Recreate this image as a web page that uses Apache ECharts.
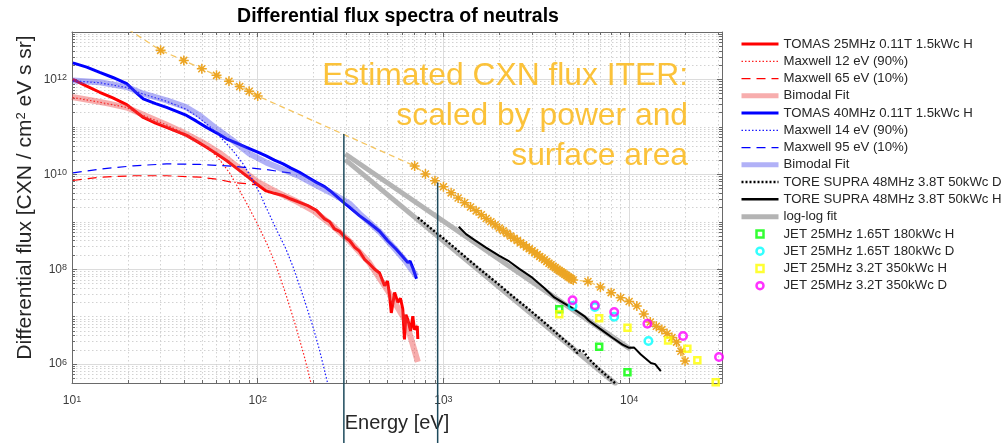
<!DOCTYPE html>
<html>
<head>
<meta charset="utf-8">
<script src="https://cdn.jsdelivr.net/npm/echarts@6/dist/echarts.min.js"></script>
<style>
  html, body { margin: 0; padding: 0; background: #fff; }
  #chart { width: 1001px; height: 443px; }
</style>
</head>
<body>
<div id="chart"></div>
<script>
// ---- axis ranges and tick values ----
const X_MIN = 10, X_MAX = 31623;
const Y_MIN = 4e5, Y_MAX = 1e13;
const xMajorTicks = [10, 100, 1000, 10000];
const yMajorTicks = [1e6, 1e8, 1e10, 1e12];

// ---- spectra: [energy eV, flux CXN/(cm2 eV s sr)] ----
const tomas25H = [
  [10.1,1.0e12],[12.0,7.24e11],[14.1,5.37e11],[16.6,4.07e11],[19.7,2.95e11],[21.9,2.14e11],[24.2,1.58e11],
  [28.2,1.20e11],[32.3,9.77e10],[36.3,8.13e10],[41.4,6.61e10],[46.8,5.01e10],[53.0,3.72e10],[60.3,2.69e10],
  [67.9,1.95e10],[74.1,1.51e10],[80.0,1.20e10],[89.1,8.71e9],[98.4,6.31e9],[111,4.47e9],[123,3.98e9],
  [137,3.55e9],[151,3.02e9],[168,2.57e9],[186,2.19e9],[207,1.74e9],[229,1.15e9],[244,1.0e9],[259,7.08e8],
  [276,6.31e8],[294,4.79e8],[313,3.98e8],[333,2.88e8],[353,2.40e8],[376,1.62e8],[398,1.32e8],[426,1.0e8],
  [453,8.32e7],[482,4.47e7],[500,5.62e7],[513,2.75e7],[524,1.20e7],[546,3.24e7],[568,2.0e7],[587,2.45e7],
  [604,1.45e7],[617,3.31e6],[628,1.10e7],[643,8.71e6],[665,5.01e6],[684,1.02e7],[698,5.37e6],[723,6.31e6],[728,3.39e6]
];
const maxwell12 = [
  [10.1,4.17e11],[14.1,3.31e11],[19.7,2.57e11],[24.2,1.74e11],[32.3,1.10e11],[41.4,6.92e10],[48.8,4.57e10],
  [56.2,3.16e10],[63.1,1.91e10],[70.8,1.05e10],[79.4,4.79e9],[89.1,2.09e9],[100,8.71e8],[112,3.47e8],
  [126,1.15e8],[141,3.16e7],[158,7.59e6],[178,1.48e6],[195,3.55e5]
];
const maxwell65 = [
  [10.1,7.41e9],[14.1,8.71e9],[21.3,9.33e9],[32.3,9.33e9],[48.8,8.71e9],[60,7.94e9],[73.5,6.76e9],[98.4,6.03e9]
];
const bimodal25 = [
  [10,4.27e11],[12.6,3.63e11],[15.8,3.09e11],[20,2.51e11],[25.1,1.70e11],[31.6,1.15e11],[39.8,7.59e10],
  [50.1,4.79e10],[63.1,2.75e10],[79.4,1.35e10],[100,6.92e9],[126,4.27e9],[158,2.82e9],[200,1.70e9],
  [251,8.51e8],[316,3.72e8],[398,1.38e8],[501,3.55e7],[631,7.59e6],[728,1.12e6]
];
const tomas40H = [
  [10.1,2.24e12],[12.0,1.82e12],[14.1,1.41e12],[16.6,1.10e12],[19.7,8.13e11],[21.9,5.50e11],[24.2,3.89e11],
  [28.2,3.09e11],[32.3,2.57e11],[36.3,2.14e11],[41.4,1.74e11],[46.8,1.32e11],[53.0,9.77e10],[60.3,7.41e10],
  [67.9,5.62e10],[77.6,4.47e10],[86.9,3.72e10],[100,2.95e10],[111,2.45e10],[123,2.0e10],[137,1.66e10],
  [151,1.35e10],[168,1.10e10],[186,8.71e9],[207,6.76e9],[229,5.50e9],[244,4.57e9],[269,3.31e9],[294,2.45e9],
  [316,1.95e9],[353,1.35e9],[398,9.55e8],[453,6.31e8],[501,3.98e8],[557,2.63e8],[603,1.86e8],[643,1.38e8],
  [661,1.48e8],[684,1.07e8],[700,1.17e8],[716,6.31e7]
];
const maxwell14 = [
  [10.1,9.33e11],[14.1,8.51e11],[19.7,6.76e11],[24.2,4.90e11],[32.3,3.47e11],[41.4,2.34e11],[48.8,1.51e11],
  [56.2,9.55e10],[63.8,5.75e10],[73.6,3.16e10],[83.4,1.66e10],[94.4,7.41e9],[103,3.89e9],[109,2.34e9],
  [126,6.92e8],[141,2.82e8],[155,1.12e8],[175,2.82e7],[198,6.31e6],[215,2.0e6],[239,3.72e5]
];
const maxwell95 = [
  [10.1,1.07e10],[14.1,1.29e10],[21.4,1.51e10],[32.3,1.66e10],[48.8,1.62e10],[73.6,1.48e10],[111,1.26e10],
  [149,1.07e10],[162,9.33e9]
];
const bimodal40 = [
  [10.1,9.55e11],[14.1,8.71e11],[19.7,6.92e11],[24.2,5.01e11],[32.3,3.63e11],[41.4,2.57e11],[48.8,1.74e11],
  [60,9.12e10],[73.6,5.13e10],[90.6,2.69e10],[111,1.78e10],[137,1.26e10],[168,9.12e9],[207,5.89e9],
  [254,3.89e9],[313,2.40e9],[353,1.48e9],[398,9.77e8],[453,6.17e8],[501,3.98e8],[557,2.51e8],[631,1.41e8],[716,7.08e7]
];
const toreSupraD = [
  [728,1.23e9],[841,7.66e8],[991,4.59e8],[1160,2.75e8],[1380,1.53e8],[1661,8.36e7],[2001,4.67e7],[2350,2.73e7],
  [2784,1.60e7],[3282,9.35e6],[3869,5.35e6],[4473,3.21e6],[4958,2.29e6],[5253,1.71e6],[5452,1.97e6],
  [5658,1.88e6],[6095,1.27e6],[6898,7.83e5],[7616,5.57e5],[8482,3.83e5]
];
const toreSupraH = [
  [1209,7.83e8],[1324,5.50e8],[1468,4.17e8],[1697,2.86e8],[2001,1.91e8],[2263,1.46e8],[2563,1.02e8],
  [3021,6.56e7],[3491,4.04e7],[3953,2.54e7],[4473,1.90e7],[5061,1.42e7],[5729,1.03e7],[6095,8.09e6],
  [7044,5.41e6],[8134,3.59e6],[9204,2.58e6],[10000,2.21e6],[10640,2.23e6],[11560,1.60e6],[13090,1.06e6],
  [13800,1.0e6],[14810,7.11e5]
];
const fitH = [[296,2.69e10],[10200,2.04e6]];
const fitD = [[296,2.04e10],[8610,3.63e5]];

// scaled ITER estimate (asterisks joined by a dashed line)
const iterEstimate = [
  [20,1.15e13],[30,4.10e12],[40,2.52e12],[50,1.68e12],[60,1.22e12],[70,9.2e11],[80,7.11e11],[90,5.66e11],[100,4.48e11],
  [700,1.50e10],[800,1.02e10],[900,7.35e9],[1000,5.50e9],[1100,4.07e9],[1200,3.16e9],[1300,2.51e9],[1400,2.04e9],
  [1500,1.70e9],[1600,1.41e9],[1700,1.17e9],[1800,1.00e9],[1900,8.61e8],[2000,7.41e8],[2100,6.46e8],[2200,5.69e8],
  [2300,5.01e8],[2400,4.47e8],[2500,4.03e8],[2600,3.63e8],[2700,3.27e8],[2800,2.95e8],[2900,2.69e8],[3000,2.45e8],
  [3100,2.24e8],[3200,2.04e8],[3300,1.86e8],[3400,1.72e8],[3500,1.58e8],[3600,1.46e8],[3700,1.34e8],[3800,1.24e8],
  [3900,1.15e8],[4000,1.08e8],[4100,1.00e8],[4200,9.44e7],[4300,8.87e7],[4400,8.34e7],[4500,7.83e7],[4600,7.36e7],
  [4700,6.97e7],[4800,6.59e7],[4900,6.24e7],[5000,5.92e7],
  [6000,5.53e7],[7000,4.24e7],[8000,3.21e7],[9000,2.51e7],[10000,2.09e7],[11000,1.68e7],[12000,1.14e7],
  [13000,7.71e6],[14000,6.31e6],[15000,5.35e6],[16000,4.41e6],[17000,3.62e6],[18000,2.91e6],[19000,1.86e6],[20000,1.16e6]
];

// JET points
const jet165H = [[4205,1.43e7],[6898,2.32e6],[9793,6.78e5]];
const jet165D = [[4958,1.68e7],[6540,1.60e7],[8308,1.0e7],[12700,3.06e6]];
const jet32H = [[4205,1.12e7],[6898,9.23e6],[9795,5.85e6],[16210,3.16e6],[20580,2.10e6],[23290,1.20e6],[29250,4.17e5]];
const jet32D = [[4958,2.21e7],[6540,1.74e7],[8308,1.25e7],[12540,7.10e6],[19510,3.90e6],[30480,1.41e6]];

// energy window markers, from the ITER curve down past the axis
const windowLow = [[291,7.1e10],[291,1.5e4]];
const windowHigh = [[931,6.76e9],[931,1.5e4]];

// ---- minor (2..9 x 10^k) grid positions ----
function minorValues(lo, hi, withDecades, majors) {
  const out = [];
  for (let k = -1; k <= 14; k++) {
    for (let m = 1; m <= 9; m++) {
      const v = m * Math.pow(10, k);
      if (v < lo || v > hi) continue;
      if (m === 1 && (!withDecades || majors.includes(v))) continue;
      out.push(v);
    }
  }
  return out;
}
const xMinorTicks = minorValues(X_MIN, X_MAX, false, xMajorTicks);
const yMinorTicks = minorValues(Y_MIN, Y_MAX, true, yMajorTicks);

const FONT = '"Liberation Sans", Arial, Helvetica, sans-serif';
const AXIS_COLOR = '#6a6a6a';
const LABEL_COLOR = '#3c3c3c';

function powerLabel(v) {
  const e = Math.round(Math.log10(v));
  return '{b|10}{e|' + e + '}';
}
const powerRich = {
  b: { fontSize: 12, fontFamily: FONT, color: LABEL_COLOR, lineHeight: 12, verticalAlign: 'bottom' },
  e: { fontSize: 9, fontFamily: FONT, color: LABEL_COLOR, lineHeight: 8, padding: [0, 0, 8, 0], verticalAlign: 'top' }
};

function logAxis(extra) {
  return Object.assign({
    type: 'log', logBase: 10,
    axisLine: { show: false, onZero: false, lineStyle: { color: AXIS_COLOR, width: 1 } },
    axisTick: { show: true, inside: true, length: 5, lineStyle: { color: AXIS_COLOR, width: 1 } },
    axisLabel: { show: false },
    splitLine: { show: false },
    minorTick: { show: false },
    minorSplitLine: { show: false },
    silent: true
  }, extra);
}

const majorGrid = { show: true, lineStyle: { color: '#dcdcdc', width: 1, type: 'solid' } };
const minorGrid = { show: true, lineStyle: { color: '#d2d2d2', width: 1, type: [1.5, 2.5] } };

const xAxes = [
  logAxis({ min: X_MIN, max: X_MAX, position: 'bottom',
    name: 'Energy [eV]', nameLocation: 'middle', nameGap: 30, nameMoveOverlap: false,
    nameTextStyle: { fontSize: 20, color: '#262626', fontFamily: FONT },
    axisLine: { show: true, onZero: false, lineStyle: { color: AXIS_COLOR, width: 1 } },
    axisTick: { show: true, inside: true, length: 5, customValues: xMajorTicks, lineStyle: { color: AXIS_COLOR } },
    axisLabel: { show: true, customValues: xMajorTicks, formatter: powerLabel, rich: powerRich, margin: 12 },
    splitLine: majorGrid }),
  logAxis({ min: X_MIN, max: X_MAX, position: 'top',
    axisLine: { show: true, onZero: false, lineStyle: { color: AXIS_COLOR, width: 1 } },
    axisTick: { show: true, inside: true, length: 5, customValues: xMajorTicks, lineStyle: { color: AXIS_COLOR } } }),
  logAxis({ min: X_MIN, max: X_MAX, position: 'bottom',
    axisTick: { show: true, inside: true, length: 3, customValues: xMinorTicks, lineStyle: { color: AXIS_COLOR } },
    splitLine: minorGrid }),
  logAxis({ min: X_MIN, max: X_MAX, position: 'top',
    axisTick: { show: true, inside: true, length: 3, customValues: xMinorTicks, lineStyle: { color: AXIS_COLOR } } })
];

const yAxes = [
  logAxis({ min: Y_MIN, max: Y_MAX, position: 'left',
    name: 'Differential flux [CXN / cm{s|2} eV s sr]', nameLocation: 'middle', nameGap: 36, nameRotate: 90,
    nameMoveOverlap: false,
    nameTextStyle: { fontSize: 21, color: '#262626', fontFamily: FONT, padding: [0, 0, 0, 20],
      rich: { s: { fontSize: 13, fontFamily: FONT, color: '#262626', lineHeight: 12, padding: [0, 0, 10, 0], verticalAlign: 'top' } } },
    axisLine: { show: true, onZero: false, lineStyle: { color: AXIS_COLOR, width: 1 } },
    axisTick: { show: true, inside: true, length: 5, customValues: yMajorTicks, lineStyle: { color: AXIS_COLOR } },
    axisLabel: { show: true, customValues: yMajorTicks, formatter: powerLabel, rich: powerRich, margin: 5 },
    splitLine: majorGrid }),
  logAxis({ min: Y_MIN, max: Y_MAX, position: 'right',
    axisLine: { show: true, onZero: false, lineStyle: { color: AXIS_COLOR, width: 1 } },
    axisTick: { show: true, inside: true, length: 5, customValues: yMajorTicks, lineStyle: { color: AXIS_COLOR } } }),
  logAxis({ min: Y_MIN, max: Y_MAX, position: 'left',
    axisTick: { show: true, inside: true, length: 3, customValues: yMinorTicks, lineStyle: { color: AXIS_COLOR } },
    splitLine: minorGrid }),
  logAxis({ min: Y_MIN, max: Y_MAX, position: 'right',
    axisTick: { show: true, inside: true, length: 3, customValues: yMinorTicks, lineStyle: { color: AXIS_COLOR } } })
];

function lineSeries(name, data, lineStyle, extra) {
  return Object.assign({
    type: 'line', name: name, data: data, xAxisIndex: 0, yAxisIndex: 0,
    symbol: 'none', showSymbol: false, lineStyle: lineStyle, silent: true,
    emphasis: { disabled: true }, animation: false
  }, extra || {});
}
function jetSeries(name, data, symbol, color, size) {
  return {
    type: 'scatter', name: name, data: data, xAxisIndex: 0, yAxisIndex: 0,
    symbol: symbol, symbolSize: size, silent: true, emphasis: { disabled: true },
    itemStyle: { color: 'rgba(255,255,255,0)', borderColor: color, borderWidth: 2.5 }, z: 4
  };
}

const ASTERISK = 'path://M5,0L5,10M0,5L10,5M1.5,1.5L8.5,8.5M1.5,8.5L8.5,1.5';
const SQUARE = 'path://M0,0L10,0L10,10L0,10Z';

const series = [
  lineSeries('TOMAS 25MHz 0.11T 1.5kWc H', tomas25H, { color: '#ff0000', width: 3 }),
  lineSeries('Maxwell 12 eV (90%)', maxwell12, { color: '#ff2020', width: 1.2, type: [1.5, 2] }),
  lineSeries('Maxwell 65 eV (10%)', maxwell65, { color: '#ff0000', width: 1.2, type: [9, 6] }),
  lineSeries('Bimodal Fit', bimodal25, { color: 'rgba(236,60,60,0.42)', width: 6 }),
  lineSeries('TOMAS 40MHz 0.11T 1.5kWc H', tomas40H, { color: '#0000ff', width: 3 }),
  lineSeries('Maxwell 14 eV (90%)', maxwell14, { color: '#1a1aff', width: 1.2, type: [1.5, 2] }),
  lineSeries('Maxwell 95 eV (10%)', maxwell95, { color: '#0000ff', width: 1.2, type: [9, 6] }),
  lineSeries('Bimodal Fit ', bimodal40, { color: 'rgba(70,70,235,0.42)', width: 6 }),
  lineSeries('log-log fit', fitH, { color: '#b4b4b4', width: 5 }),
  lineSeries('log-log fit', fitD, { color: '#b4b4b4', width: 5 }),
  lineSeries('TORE SUPRA 48MHz 3.8T 50kWc D', toreSupraD, { color: '#000000', width: 2.5, type: [2, 2] }),
  lineSeries('TORE SUPRA 48MHz 3.8T 50kWc H', toreSupraH, { color: '#000000', width: 2 }),
  lineSeries('ITER estimate', iterEstimate, { color: '#f5c560', width: 1.3, type: [6, 4] }, {
    symbol: ASTERISK, showSymbol: true, symbolSize: 10,
    itemStyle: { color: '#eca524', borderColor: '#eca524', borderWidth: 1.5 }
  }),
  jetSeries('JET 25MHz 1.65T 180kWc H', jet165H, 'rect', '#00ff00', 6),
  jetSeries('JET 25MHz 1.65T 180kWc D', jet165D, 'circle', '#00ffff', 7.5),
  jetSeries('JET 25MHz 3.2T 350kWc H', jet32H, 'rect', '#ffff00', 6),
  jetSeries('JET 25MHz 3.2T 350kWc D', jet32D, 'circle', '#ff00ff', 7.5),
  lineSeries('window-low', windowLow, { color: '#1d4a5c', width: 1.5 }, { clip: false, z: 6 }),
  lineSeries('window-high', windowHigh, { color: '#1d4a5c', width: 1.5 }, { clip: false, z: 6 })
];

// legend: line entries show only their stroke, JET entries only their marker
const noMarker = { opacity: 0 };
const legendItems = [
  { name: 'TOMAS 25MHz 0.11T 1.5kWc H', lineStyle: { width: 3 }, itemStyle: noMarker },
  { name: 'Maxwell 12 eV (90%)', lineStyle: { width: 1.2 }, itemStyle: noMarker },
  { name: 'Maxwell 65 eV (10%)', lineStyle: { width: 1.2 }, itemStyle: noMarker },
  { name: 'Bimodal Fit', lineStyle: { width: 5 }, itemStyle: noMarker },
  { name: 'TOMAS 40MHz 0.11T 1.5kWc H', lineStyle: { width: 3 }, itemStyle: noMarker },
  { name: 'Maxwell 14 eV (90%)', lineStyle: { width: 1.2 }, itemStyle: noMarker },
  { name: 'Maxwell 95 eV (10%)', lineStyle: { width: 1.2 }, itemStyle: noMarker },
  { name: 'Bimodal Fit ', lineStyle: { width: 5 }, itemStyle: noMarker },
  { name: 'TORE SUPRA 48MHz 3.8T 50kWc D', lineStyle: { width: 2.5 }, itemStyle: noMarker },
  { name: 'TORE SUPRA 48MHz 3.8T 50kWc H', lineStyle: { width: 2.5 }, itemStyle: noMarker },
  { name: 'log-log fit', lineStyle: { width: 5 }, itemStyle: noMarker },
  { name: 'JET 25MHz 1.65T 180kWc H', icon: SQUARE, itemStyle: { borderWidth: 2.5 } },
  { name: 'JET 25MHz 1.65T 180kWc D', icon: 'circle', itemStyle: { borderWidth: 2.5 } },
  { name: 'JET 25MHz 3.2T 350kWc H', icon: SQUARE, itemStyle: { borderWidth: 2.5 } },
  { name: 'JET 25MHz 3.2T 350kWc D', icon: 'circle', itemStyle: { borderWidth: 2.5 } }
];

const chart = echarts.init(document.getElementById('chart'), null, { renderer: 'canvas' });
chart.setOption({
  animation: false,
  backgroundColor: '#ffffff',
  grid: { left: 72, right: 279, top: 32, bottom: 60, containLabel: false },
  xAxis: xAxes,
  yAxis: yAxes,
  legend: {
    orient: 'vertical', left: 739, top: 35.4, padding: 0,
    itemWidth: 37, itemHeight: 7, itemGap: 0, selectedMode: false, symbolKeepAspect: true,
    textStyle: { fontSize: 13.2, color: '#262626', fontFamily: FONT, lineHeight: 17.26 },
    lineStyle: { type: 'inherit' },
    data: legendItems
  },
  graphic: [
    { type: 'text', x: 398, y: 16.5, silent: true, z: 10,
      style: { text: 'Differential flux spectra of neutrals', fill: '#000000',
        fontSize: 19.5, fontWeight: 'bold', fontFamily: FONT,
        align: 'center', verticalAlign: 'middle', textAlign: 'center', textVerticalAlign: 'middle' } },
    { type: 'text', x: 688, y: 56, silent: true, z: 10,
      style: { text: 'Estimated CXN flux ITER:\nscaled by power and\nsurface area', fill: '#fbc23a',
        fontSize: 31.8, fontFamily: FONT, lineHeight: 40,
        align: 'right', verticalAlign: 'top', textAlign: 'right', textVerticalAlign: 'top' } }
  ],
  series: series
});
</script>
</body>
</html>
